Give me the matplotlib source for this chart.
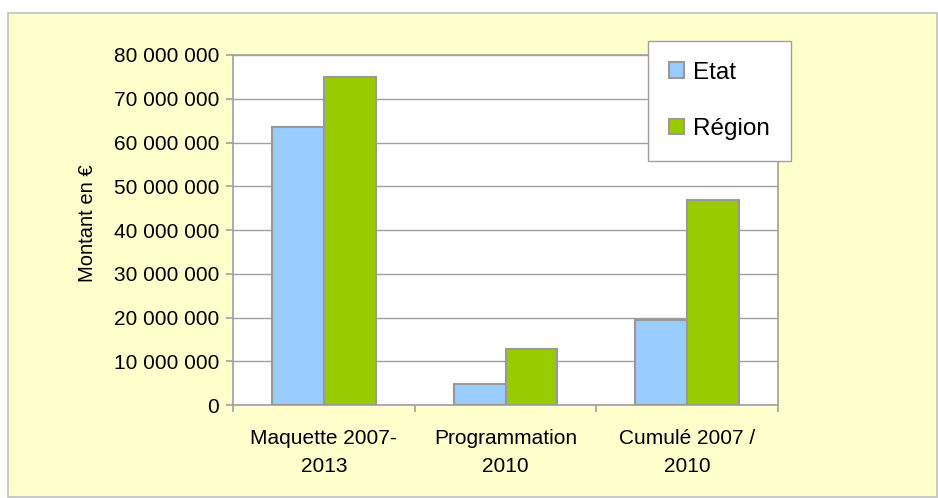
import numpy as np
import matplotlib.pyplot as plt
from matplotlib.patches import Rectangle
from matplotlib.ticker import FuncFormatter

# data
categories = ["Maquette 2007-\n2013", "Programmation\n2010", "Cumulé 2007 /\n2010"]
series_names = ["Etat", "Région"]
etat = [63.6e6, 4.9e6, 19.5e6]
region = [75.0e6, 12.7e6, 46.8e6]
colours = ["#99CCFF", "#99CC00"]

W, H = 938, 498
plt.rcParams["font.family"] = ["Liberation Sans", "DejaVu Sans"]
fig = plt.figure(figsize=(W / 100, H / 100), dpi=100)
fig.patch.set_facecolor("white")

# chart area background with thin grey border (behind the axes)
fig.patches.append(Rectangle((8 / W, 1 - 497 / H), 929 / W, 484 / H,
                             transform=fig.transFigure, facecolor="#FFFFCC",
                             edgecolor="#C0C0C0", linewidth=1.2, zorder=-10))

ax = fig.add_axes([233 / W, 93 / H, 545 / W, 350 / H])
ax.set_facecolor("white")

x = np.arange(len(categories))
bw = 1 / 3.5
for i, (name, vals) in enumerate(zip(series_names, [etat, region])):
    ax.bar(x + (i - 0.5) * bw, vals, width=bw, align="center", color=colours[i],
           edgecolor="#999999", linewidth=1.5, label=name, zorder=3)

ax.set_xlim(-0.5, 2.5)
ax.set_ylim(0, 80e6)
ax.set_yticks(np.arange(0, 80e6 + 1, 10e6))
ax.yaxis.set_major_formatter(FuncFormatter(lambda v, p: f"{int(v):,}".replace(",", " ")))
ax.grid(axis="y", color="#A0A0A0", linewidth=1.0, zorder=1)
ax.set_axisbelow(True)

ax.set_xticks([-0.5, 0.5, 1.5, 2.5])
ax.set_xticklabels([])
ax.set_xticks(x, minor=True)
ax.set_xticklabels(categories, minor=True, fontsize=15, linespacing=1.65)
ax.tick_params(axis="x", which="minor", length=0, pad=17)
ax.tick_params(axis="x", which="major", length=5, color="#A0A0A0", width=1.2)
ax.tick_params(axis="y", length=5, color="#A0A0A0", width=1.2, labelsize=15, pad=5)

for s in ax.spines.values():
    s.set_color("#A0A0A0")
    s.set_linewidth(1.2)

ax.set_ylabel("Montant en €", fontsize=14.5)
ax.yaxis.set_label_coords(-0.25, 0.519)

leg = fig.legend(loc="upper left", bbox_to_anchor=(648 / W, 1 - 41 / H), fontsize=17.5,
                 frameon=True, fancybox=False, edgecolor="#A0A0A0", facecolor="white",
                 framealpha=1, handlelength=0.62, handleheight=0.62, handletextpad=0.4,
                 labelspacing=1.42, borderpad=0.85, borderaxespad=0)
leg.get_frame().set_linewidth(1.0)

fig.savefig("out.png", dpi=100)
